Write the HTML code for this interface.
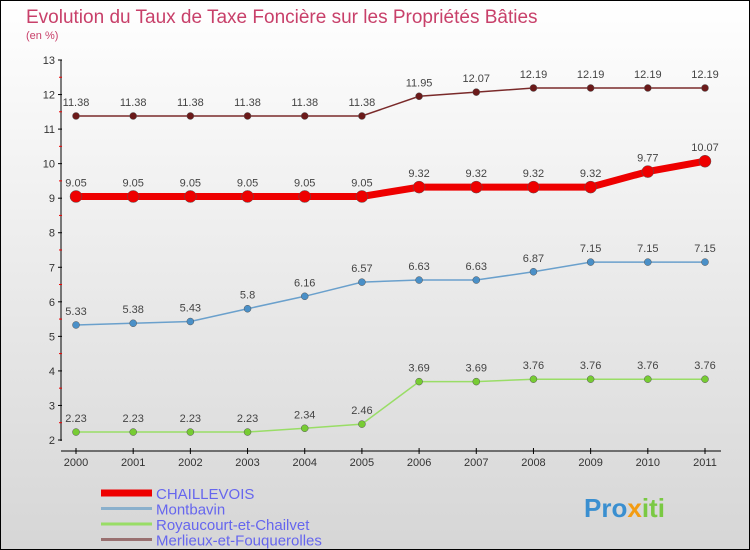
<!DOCTYPE html>
<html><head><meta charset="utf-8"><style>
body{margin:0;}
#c{width:748px;height:548px;border:1px solid #000;background:linear-gradient(#fff,#d6d6d6);position:relative;overflow:hidden;font-family:"Liberation Sans",sans-serif;}
</style></head><body>
<div id="c">
<svg id="s" width="748" height="548" xmlns="http://www.w3.org/2000/svg">
<text x="25" y="22" font-size="19" fill="#c8406a">Evolution du Taux de Taxe Foncière sur les Propriétés Bâties</text>
<text x="25" y="38" font-size="11" fill="#c8406a">(en %)</text>
<g id="axes"></g><g id="series"></g><g id="legend"></g>
<text x="583" y="516" font-size="26" font-weight="bold" fill="#3a8fd0">Pro<tspan fill="#f39c12">x</tspan><tspan fill="#7ac943">iti</tspan></text>
</svg>
</div>
<script>
const years=["2000","2001","2002","2003","2004","2005","2006","2007","2008","2009","2010","2011"];
const chaillevois=[9.05,9.05,9.05,9.05,9.05,9.05,9.32,9.32,9.32,9.32,9.77,10.07];
const montbavin=[5.33,5.38,5.43,5.8,6.16,6.57,6.63,6.63,6.87,7.15,7.15,7.15];
const royaucourt=[2.23,2.23,2.23,2.23,2.34,2.46,3.69,3.69,3.76,3.76,3.76,3.76];
const merlieux=[11.38,11.38,11.38,11.38,11.38,11.38,11.95,12.07,12.19,12.19,12.19,12.19];
const yTicks=[2,3,4,5,6,7,8,9,10,11,12,13];
const seriesNames=["CHAILLEVOIS","Montbavin","Royaucourt-et-Chailvet","Merlieux-et-Fouquerolles"];
const NS="http://www.w3.org/2000/svg";
const xS=i=>75+i*(629/(years.length-1));
const yS=v=>439-(v-2)*(380/11);
function mk(t,a,p){const e=document.createElementNS(NS,t);for(const k in a)e.setAttribute(k,a[k]);p.appendChild(e);return e;}
const ax=document.getElementById('axes');
let l=mk('line',{x1:60,y1:59,x2:60,y2:440,stroke:'#000'},ax);


l=mk('line',{x1:60,y1:450,x2:720,y2:450,stroke:'#000'},ax);


yTicks.forEach(v=>{const y=yS(v);
mk('line',{x1:57,y1:y,x2:61,y2:y,stroke:'#000'},ax);
if(v<13)mk('line',{x1:58,y1:y-17.3,x2:61,y2:y-17.3,stroke:'#e00'},ax);
const t=mk('text',{x:54,y:y+4,'font-size':11,'text-anchor':'end',fill:'#333'},ax);t.textContent=v;

});
years.forEach((yr,i)=>{const x=xS(i);
mk('line',{x1:x,y1:447,x2:x,y2:453,stroke:'#000'},ax);
const t=mk('text',{x:x,y:465,'font-size':11,'text-anchor':'middle',fill:'#333'},ax);t.textContent=yr;

});
const sg=document.getElementById('series');
function draw(data,color,w,r,name,dot){
const g=mk('g',{},sg);


mk('polyline',{points:data.map((v,i)=>xS(i)+','+yS(v)).join(' '),fill:'none',stroke:color,'stroke-width':w},g);
data.forEach((v,i)=>{const c=mk('circle',{cx:xS(i),cy:yS(v),r:r,fill:dot,stroke:'#555','stroke-width':0.5},g);


const t=mk('text',{x:xS(i),y:yS(v)-10,'font-size':11,'text-anchor':'middle',fill:'#444'},g);t.textContent=v;

});}
draw(merlieux,'#7a2a2a',1.5,3.5,'merlieux-series','#6b1a1a');
draw(chaillevois,'#ee0000',7,6,'chaillevois-series','#ee0000');
draw(montbavin,'#6aa0cc',1.5,3.5,'montbavin-series','#4a90c8');
draw(royaucourt,'#99dd66',1.5,3.5,'royaucourt-series','#77cc33');
const lg=document.getElementById('legend');
const lc=['#ee0000','#8ab0cc','#99dd66','#997070'],lw=[7,3,3,3];
seriesNames.forEach((n,i)=>{const y=492+i*15.5;
const g=mk('g',{},lg);


mk('line',{x1:100,y1:y,x2:151,y2:y,stroke:lc[i],'stroke-width':lw[i]},g);
const t=mk('text',{x:155,y:y+6,'font-size':15,fill:'#6666ee'},g);t.textContent=n;});
</script>
</body></html>
